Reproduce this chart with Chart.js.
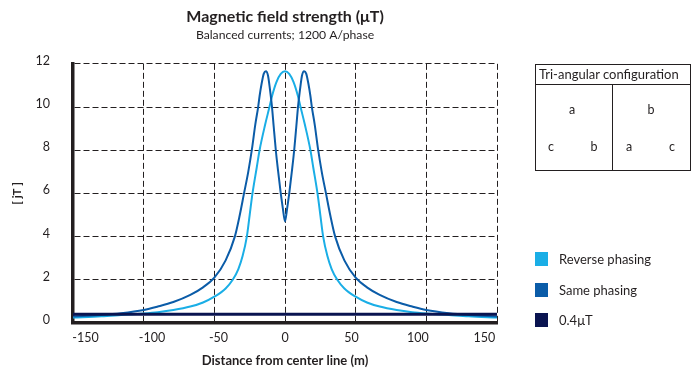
<!DOCTYPE html>
<html>
<head>
<meta charset="utf-8">
<script src="https://cdn.jsdelivr.net/npm/chart.js@4"></script>
<style>
  body { margin: 0; background: #fff; font-family: Lato, "Noto Sans", sans-serif; color: #231f20; }
  #wrap { position: relative; width: 698px; height: 372px; }
  #config { position: absolute; left: 535px; top: 64px; width: 156px; height: 107px; box-sizing: border-box; border: 1.5px solid #231f20; }
  #config .head { height: 19px; line-height: 19px; padding-left: 3px; font-size: 13px; border-bottom: 1.5px solid #231f20; }
  #config .divider { position: absolute; left: 76px; top: 19px; bottom: 0; border-left: 1.5px solid #231f20; }
  .letter { position: absolute; font-size: 12.5px; transform: translate(-50%, -50%); }
  #legend { position: absolute; left: 535px; top: 252px; margin: 0; padding: 0; list-style: none; }
  #legend li { display: flex; align-items: center; height: 14px; margin-bottom: 16.5px; font-size: 13px; }
  #legend .box { width: 13px; height: 14px; margin-right: 11px; }
</style>
</head>
<body>
<div id="wrap">
  <canvas id="chart" width="698" height="372"></canvas>
  <div id="config">
    <div class="head">Tri-angular configuration</div>
    <div class="divider"></div>
  </div>
  <ul id="legend"></ul>
</div>
<script>
// Reverse phasing: distance (m) and field (μT)
const reverseX = [-150, -130, -116, -100, -90, -79, -67, -58, -50, -42, -37, -33, -30, -27, -25, -23, -20, -18, -14, -11, -9, -6, -3,
  0, 3, 6, 9, 11, 14, 18, 20, 23, 25, 27, 30, 33, 37, 42, 50, 58, 67, 79, 90, 100, 116, 130, 150];
const reverseB = [0.25, 0.31, 0.37, 0.44, 0.5, 0.6, 0.76, 0.95, 1.22, 1.6, 2.0, 2.5, 3.1, 4.0, 5.0, 6.0, 7.2, 8.0, 9.2, 10.0, 10.55, 11.17, 11.54,
  11.66, 11.54, 11.17, 10.55, 10.0, 9.2, 8.0, 7.2, 6.0, 5.0, 4.0, 3.1, 2.5, 2.0, 1.6, 1.22, 0.95, 0.76, 0.6, 0.5, 0.44, 0.37, 0.31, 0.25];

// Same phasing
const sameX = [-150, -130, -116, -100, -90, -79, -67, -58, -50, -42, -35.5, -32, -29, -26, -23.5, -21, -19, -18, -16.5, -15, -13.5, -12, -11, -9.2, -8, -6.5, -5, -3, -1.5,
  0, 1.5, 3, 5, 6.5, 8, 9.2, 11, 12, 13.5, 15, 16.5, 18, 19, 21, 23.5, 26, 29, 32, 35.5, 42, 50, 58, 67, 79, 90, 100, 116, 130, 150];
const sameB = [0.3, 0.37, 0.45, 0.6, 0.76, 0.97, 1.3, 1.65, 2.1, 2.9, 4.0, 5.0, 6.0, 7.0, 8.0, 9.2, 10.0, 10.5, 11.1, 11.55, 11.66, 11.45, 11.0, 10.0, 9.1, 8.0, 7.1, 6.0, 5.3,
  4.7, 5.3, 6.0, 7.1, 8.0, 9.1, 10.0, 11.0, 11.45, 11.66, 11.55, 11.1, 10.5, 10.0, 9.2, 8.0, 7.0, 6.0, 5.0, 4.0, 2.9, 2.1, 1.65, 1.3, 0.97, 0.76, 0.6, 0.45, 0.37, 0.3];

// 0.4 μT reference level
const limitX = [-150, 150];
const limitB = [0.4, 0.4];

const seriesNames = ["Reverse phasing", "Same phasing", "0.4μT"];
const seriesColors = ["#1aaee6", "#0b5ca8", "#0a1450"];
const xTicks = [-150, -100, -50, 0, 50, 100, 150];
const yTicks = [0, 2, 4, 6, 8, 10, 12];

// phase letters for the two tri-angular layouts: top, bottom-left, bottom-right
const configLeft = ["a", "c", "b"];
const configRight = ["b", "a", "c"];

const pts = (xs, ys) => xs.map((x, i) => ({ x, y: ys[i] }));
const setTicks = (list) => (scale) => { scale.ticks = list.map((v) => ({ value: v })); };

Chart.defaults.font.family = "Lato, 'Noto Sans', sans-serif";
Chart.defaults.color = "#231f20";

const ink = "#231f20";
const gridDash = [6, 3];

const chart = new Chart(document.getElementById("chart"), {
  type: "line",
  data: {
    datasets: [
      { label: seriesNames[0], data: pts(reverseX, reverseB), borderColor: seriesColors[0], backgroundColor: seriesColors[0], borderWidth: 2, order: 2 },
      { label: seriesNames[1], data: pts(sameX, sameB), borderColor: seriesColors[1], backgroundColor: seriesColors[1], borderWidth: 2, order: 1 },
      { label: seriesNames[2], data: pts(limitX, limitB), borderColor: seriesColors[2], backgroundColor: seriesColors[2], borderWidth: 3, order: 0 },
    ],
  },
  options: {
    responsive: false,
    animation: false,
    layout: { padding: { right: 201 } },
    elements: {
      point: { radius: 0 },
      line: { cubicInterpolationMode: "monotone", fill: false },
    },
    plugins: {
      legend: { display: false },
      tooltip: { enabled: false },
      title: {
        display: true,
        fullSize: false,
        text: "Magnetic field strength (μT)",
        font: { size: 16, weight: "bold" },
        padding: { top: 7, bottom: 0 },
      },
      subtitle: {
        display: true,
        fullSize: false,
        text: "Balanced currents; 1200 A/phase",
        font: { size: 12.2 },
        padding: { top: 2, bottom: 21 },
      },
    },
    scales: {
      x: {
        type: "linear",
        min: -150,
        max: 150,
        afterBuildTicks: setTicks(xTicks),
        afterFit: (s) => { s.height = 0; },
        ticks: { display: false },
        grid: { color: ink, lineWidth: 1, drawTicks: false },
        border: { color: ink, width: 3.5, dash: gridDash },
      },
      // tick labels sit on a slightly wider scale than the grid in the original
      xLabels: {
        type: "linear",
        position: "bottom",
        weight: 1,
        min: -159.4,
        max: 159.4,
        afterBuildTicks: setTicks(xTicks),
        afterFit: (s) => { s.height = 49; },
        grid: { display: false, drawTicks: false },
        border: { display: false },
        ticks: { padding: 7, font: { size: 12.5 }, maxRotation: 0, autoSkip: false },
        title: {
          display: true,
          text: "Distance from center line (m)",
          font: { size: 13, weight: "bold" },
          padding: { top: 0, bottom: 3 },
        },
      },
      y: {
        min: 0,
        max: 12,
        afterBuildTicks: setTicks(yTicks),
        afterFit: (s) => { s.width = 73; },
        ticks: { padding: 23, labelOffset: -3, font: { size: 12.5 } },
        grid: { color: ink, lineWidth: 1, drawTicks: false },
        border: { color: ink, width: 3.5, dash: gridDash },
        title: {
          display: true,
          text: "[ jT ]",
          font: { size: 11.5, weight: "bold" },
          padding: { top: 10, bottom: 0 },
        },
      },
    },
  },
});

// legend built from the chart's datasets
const legend = document.getElementById("legend");
chart.data.datasets.forEach((ds) => {
  const li = document.createElement("li");
  li.innerHTML = `<span class="box" style="background:${ds.borderColor}"></span>${ds.label}`;
  legend.appendChild(li);
});

// letters of the tri-angular configuration box
const wrap = document.getElementById("wrap");
const letterSpots = [
  { set: configLeft, spots: [[572, 109], [551, 146], [594, 146]] },
  { set: configRight, spots: [[651, 109], [629, 146], [672, 146]] },
];
for (const { set, spots } of letterSpots) {
  set.forEach((letter, i) => {
    const span = document.createElement("span");
    span.className = "letter";
    span.textContent = letter;
    span.style.left = spots[i][0] + "px";
    span.style.top = spots[i][1] + "px";
    wrap.appendChild(span);
  });
}
</script>
</body>
</html>
